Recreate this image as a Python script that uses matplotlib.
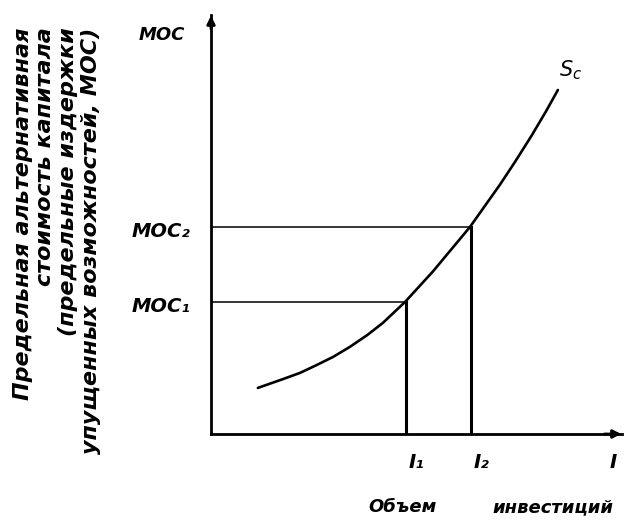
import matplotlib.pyplot as plt

# --- data (arbitrary units) ---
curve_i = [1.14, 1.75, 2.17, 2.58, 2.97, 3.38, 3.80, 4.18, 4.72,
           5.40, 6.30, 7.03, 7.40, 7.80, 8.15, 8.44]
curve_moc = [1.10, 1.31, 1.46, 1.65, 1.84, 2.08, 2.36, 2.65, 3.15,
             3.88, 4.94, 5.95, 6.50, 7.12, 7.70, 8.21]
invest = [4.74, 6.33]          # I1, I2
moc = [3.15, 4.94]             # MOC1, MOC2
level_labels = ['MOC₁', 'MOC₂']
invest_labels = ['I₁', 'I₂']

ylabel_text = ('Предельная альтернативная\n'
               'стоимость капитала\n'
               '(предельные издержки\n'
               'упущенных возможностей, MOC)')

plt.rcParams['font.family'] = ['DejaVu Sans']
font = dict(fontweight='bold', fontstyle='italic', color='black')

fig = plt.figure(figsize=(6.28, 5.2), dpi=100)
ax = fig.add_axes([211 / 628, 86 / 520, 411 / 628, 419 / 520])
ax.set_xlim(0, 10)
ax.set_ylim(0, 10)
for side in ['top', 'right']:
    ax.spines[side].set_visible(False)
for side in ['left', 'bottom']:
    ax.spines[side].set_linewidth(2)
ax.set_xticks([])
ax.set_yticks([])

# axis arrowheads
ax.annotate('', xy=(0, 10.05), xytext=(0, 9.6),
            arrowprops=dict(arrowstyle='-|>', color='k', lw=2, mutation_scale=12),
            annotation_clip=False)
ax.annotate('', xy=(10.05, 0), xytext=(9.5, 0),
            arrowprops=dict(arrowstyle='-|>', color='k', lw=2, mutation_scale=12),
            annotation_clip=False)

# supply curve of capital
ax.plot(curve_i, curve_moc, color='k', lw=1.9, solid_capstyle='round',
        solid_joinstyle='round')

# guide lines
for x, y in zip(invest, moc):
    ax.plot([0, x], [y, y], color='k', lw=1.1)
    ax.plot([x, x], [0, y], color='k', lw=2.2)

# labels
for y, lab in zip(moc, level_labels):
    ax.text(-0.5, y - 0.1, lab, ha='right', va='center', fontsize=14,
            clip_on=False, **font)
for x, lab in zip(invest, invest_labels):
    ax.text(x + 0.25, -0.67, lab, ha='center', va='center', fontsize=14,
            clip_on=False, **font)
ax.text(9.78, -0.67, 'I', ha='center', va='center', fontsize=14,
        clip_on=False, **font)
ax.text(-1.19, 9.52, 'MOC', ha='center', va='center', fontsize=13,
        clip_on=False, **font)
ax.text(8.75, 8.69, r'$S_c$', ha='center', va='center', fontsize=15,
        clip_on=False)
ax.text(4.67, -1.74, 'Объем', ha='center', va='center', fontsize=13,
        clip_on=False, **font)
ax.text(8.32, -1.74, 'инвестиций', ha='center', va='center', fontsize=13,
        clip_on=False, **font)
ax.text(-3.75, 9.7, ylabel_text, rotation=90, ha='center', va='top',
        multialignment='right', fontsize=16, linespacing=1.18,
        clip_on=False, **font)

fig.savefig('out.png', dpi=100)
